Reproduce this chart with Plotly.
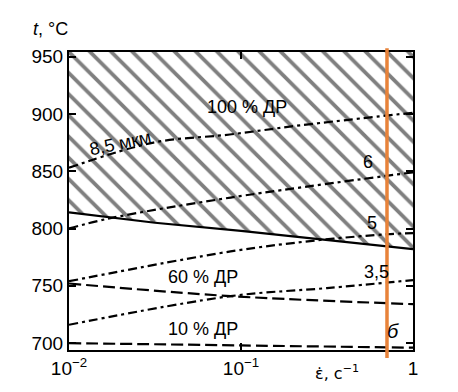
import numpy as np
import plotly.graph_objects as go

# strain rate (s^-1) sample points
x_pts = [0.01, 0.0316, 0.1, 0.316, 1.0]

# boundary of the hatched region (solid)
boundary = [814, 805, 798, 790, 782]

# dash-dot grain-size lines
x_85 = [0.01, 0.031, 0.086, 0.22, 1.0]
t_85 = [853, 875, 882, 890, 901]          # 8,5 мкм (100 % ДР)
x_6 = [0.01, 0.0174, 0.087, 1.0]
t_6 = [800, 809, 827, 849]                # 6
x_5 = [0.01, 0.087, 0.29, 0.71, 1.0]
t_5 = [754, 780, 790, 795, 796]           # 5
x_35 = [0.01, 0.087, 0.316, 1.0]
t_35 = [716, 741, 748, 755]               # 3,5

# dashed lines
x_60 = [0.01, 0.087, 1.0]
t_60 = [752, 741, 734]                    # 60 % ДР
x_10 = [0.01, 0.1, 1.0]
t_10 = [700, 698, 696]                    # 10 % ДР

x_marker = 0.706                          # orange vertical line
y_range = [694, 954]

fig = go.Figure()

# hatched region above boundary
fig.add_trace(go.Scatter(
    x=x_pts + [x_pts[-1], x_pts[0]],
    y=boundary + [y_range[1], y_range[1]],
    fill="toself", mode="none",
    fillcolor="rgba(0,0,0,0)",
    fillpattern=dict(shape="\\", fgcolor="black", bgcolor="rgba(0,0,0,0)",
                     size=15, solidity=0.25),
    hoverinfo="skip", showlegend=False))

fig.add_trace(go.Scatter(x=x_pts, y=boundary, mode="lines",
                         line=dict(color="black", width=2.2), showlegend=False))

dashdot = "9px,4px,3px,4px"
dash = "12px,5px"
for xs, ys, d in [(x_85, t_85, dashdot), (x_6, t_6, dashdot), (x_5, t_5, dashdot),
                  (x_35, t_35, dashdot), (x_60, t_60, dash), (x_10, t_10, dash)]:
    fig.add_trace(go.Scatter(x=xs, y=ys, mode="lines", line_shape="spline",
                             line=dict(color="black", width=2.2, dash=d),
                             showlegend=False))

fig.add_shape(type="line", xref="x", yref="paper", x0=x_marker, x1=x_marker,
              y0=-0.027, y1=1.013, line=dict(color="#E8833A", width=3.5))

font = dict(family="Liberation Sans, Arial, sans-serif", size=18, color="black")
ann = [
    ("100 % ДР", -0.965, 906, 0),
    ("8,5 мкм", -1.698, 874.6, -12),
    ("6", -0.262, 858, 0),
    ("5", -0.238, 804.8, 0),
    ("3,5", -0.215, 762, 0),
    ("60 % ДР", -1.221, 757.7, 0),
    ("10 % ДР", -1.221, 712, 0),
]
for text, xa, ya, ang in ann:
    fig.add_annotation(x=xa, y=ya, xref="x", yref="y", text=text, showarrow=False,
                       textangle=ang, font=font, xanchor="center", yanchor="middle")
fig.add_annotation(x=-0.116, y=710.6, xref="x", yref="y", text="<i>б</i>",
                   showarrow=False, font=dict(font, size=20),
                   xanchor="center", yanchor="middle")
fig.add_annotation(x=(336.5 - 69) / 344, y=-(372 - 350) / 298, xref="paper", yref="paper",
                   text="ε̇, с<sup>−1</sup>", showarrow=False,
                   font=dict(family="DejaVu Sans, sans-serif", size=16, color="black"),
                   xanchor="center", yanchor="middle")
fig.add_annotation(x=(50 - 69) / 344, y=1 + (52 - 29) / 298, xref="paper", yref="paper",
                   text="<i>t</i>, °C", showarrow=False, font=font,
                   xanchor="center", yanchor="middle")

axis_common = dict(showline=True, linecolor="black", linewidth=2, mirror="allticks",
                   ticks="inside", ticklen=7, tickwidth=1.5, tickcolor="black",
                   showgrid=False, zeroline=False,
                   tickfont=dict(family="Liberation Sans, Arial, sans-serif",
                                 size=19, color="black"))
fig.update_xaxes(type="log", range=[-2, 0], tickvals=[0.01, 0.1, 1],
                 ticktext=["10<sup>−2</sup>", "10<sup>−1</sup>", "1"], **axis_common)
fig.update_yaxes(range=y_range, tickvals=[700, 750, 800, 850, 900, 950],
                 **axis_common)

fig.update_layout(width=458, height=392, margin=dict(l=69, r=45, t=52, b=42),
                  plot_bgcolor="white", paper_bgcolor="white")
fig.write_html("out.html", config={"displayModeBar": False},
               post_script="document.body.style.margin='0';")
